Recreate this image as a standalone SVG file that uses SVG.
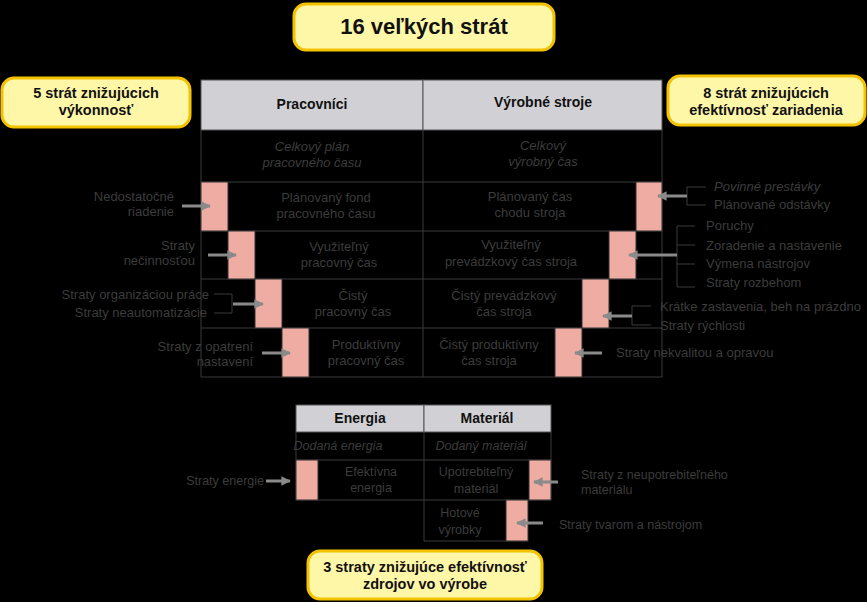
<svg xmlns="http://www.w3.org/2000/svg" width="867" height="602" viewBox="0 0 867 602">
<defs>
<marker id="ah" viewBox="0 0 10 10" refX="9" refY="5" markerWidth="3.2" markerHeight="3.2" orient="auto"><path d="M0,0L10,5L0,10z" fill="#8a8a8a"/></marker>
<style>
text{font-family:"Liberation Sans",Arial,sans-serif;fill:#3c3c3c;font-size:13px}
.s{font-size:12.5px}
.c{text-anchor:middle}.r{text-anchor:end}.i{font-style:italic}
.h{font-weight:bold;fill:#111;font-size:14px}
.y{fill:#fff7a8;stroke:#f3c300;stroke-width:3}
.yt{font-weight:bold;fill:#111;font-size:14.5px;text-anchor:middle}
.hd{fill:#d1d1d5;stroke:#555;stroke-width:1}
.cell{fill:none;stroke:#3a3a3a;stroke-width:1}
.p{fill:#eeaca3;stroke:#333;stroke-width:1}
.a{stroke:#8a8a8a;stroke-width:3;fill:none;marker-end:url(#ah)}
.b{stroke:#3a3a3a;stroke-width:1;fill:none}
</style>
</defs>
<rect width="867" height="602" fill="#000"/>
<g id="title"><rect class="y" x="294" y="4" width="260" height="46" rx="12"/><text class="yt" x="424" y="34" style="font-size:22px">16 veľkých strát</text></g>
<g id="left-label"><rect class="y" x="2" y="78" width="188" height="49" rx="12"/><text class="yt" x="96" y="98">5 strát znižujúcich</text><text class="yt" x="96" y="115">výkonnosť</text></g>
<g id="right-label"><rect class="y" x="668" y="76" width="197" height="49" rx="12"/><text class="yt" x="766" y="98">8 strát znižujúcich</text><text class="yt" x="766" y="115">efektívnosť zariadenia</text></g>
<g id="bottom-label"><rect class="y" x="308" y="551" width="234" height="48" rx="12"/><text class="yt" x="425" y="572">3 straty znižujúce efektívnosť</text><text class="yt" x="425" y="589">zdrojov vo výrobe</text></g>
<g id="main-table">
<rect class="hd" x="201" y="80" width="222" height="50"/><rect class="hd" x="423" y="80" width="239" height="50"/>
<text class="h c" x="312" y="109">Pracovníci</text><text class="h c" x="543" y="107">Výrobné stroje</text>
<path class="cell" d="M201,130V377M662,130V377M423,130V377M201,182H662M201,231H662M201,279H662M201,328H662M201,377H662"/>
<rect class="p" x="201" y="182" width="27" height="49"/><rect class="p" x="228" y="231" width="27" height="48"/><rect class="p" x="255" y="279" width="27" height="49"/><rect class="p" x="282" y="328" width="27" height="49"/>
<rect class="p" x="636" y="182" width="26" height="49"/><rect class="p" x="609" y="231" width="27" height="48"/><rect class="p" x="582" y="279" width="27" height="49"/><rect class="p" x="555" y="328" width="27" height="49"/>
<text class="c i" x="312" y="151">Celkový plán</text><text class="c i" x="312" y="167">pracovného času</text>
<text class="c" x="326" y="202">Plánovaný fond</text><text class="c" x="326" y="218">pracovného času</text>
<text class="c" x="339" y="251">Využiteľný</text><text class="c" x="339" y="267">pracovný čas</text>
<text class="c" x="353" y="300">Čistý</text><text class="c" x="353" y="316">pracovný čas</text>
<text class="c" x="366" y="349">Produktívny</text><text class="c" x="366" y="365">pracovný čas</text>
<text class="c i" x="543" y="150">Celkový</text><text class="c i" x="543" y="166">výrobný čas</text>
<text class="c" x="530" y="201">Plánovaný čas</text><text class="c" x="530" y="217">chodu stroja</text>
<text class="c" x="511" y="249">Využiteľný</text><text class="c" x="511" y="266">prevádzkový čas stroja</text>
<text class="c" x="504" y="300">Čistý prevádzkový</text><text class="c" x="504" y="316">čas stroja</text>
<text class="c" x="489" y="349">Čistý produktívny</text><text class="c" x="489" y="365">čas stroja</text>
</g>
<g id="bottom-table">
<rect class="hd" x="296" y="405" width="128" height="27"/><rect class="hd" x="424" y="405" width="127" height="27"/>
<text class="h c" x="360" y="423">Energia</text><text class="h c" x="487" y="423">Materiál</text>
<path class="cell" d="M296,432V500M551,432V500M424,432V541M296,460H551M296,500H551M424,541H528"/>
<rect class="p" x="296" y="460" width="22" height="40"/><rect class="p" x="529" y="460" width="22" height="40"/><rect class="p" x="506" y="500" width="22" height="41"/>
<text class="c i s" x="338" y="450">Dodaná energia</text><text class="c i s" x="481" y="450">Dodaný materiál</text>
<text class="c s" x="371" y="476">Efektívna</text><text class="c s" x="371" y="492">energia</text>
<text class="c s" x="476" y="476">Upotrebiteľný</text><text class="c s" x="476" y="493">materiál</text>
<text class="c s" x="460" y="517">Hotové</text><text class="c s" x="460" y="534">výrobky</text>
</g>
<g id="loss-labels">
<text class="r" x="174" y="201">Nedostatočné</text><text class="r" x="174" y="216">riadenie</text>
<text class="r" x="195" y="250">Straty</text><text class="r" x="195" y="265">nečinnosťou</text>
<text class="r" x="209" y="299">Straty organizáciou práce</text><text class="r" x="207" y="317">Straty neautomatizácie</text>
<text class="r" x="253" y="351">Straty z opatrení</text><text class="r" x="253" y="366">nastavení</text>
<text class="i" x="714" y="191">Povinné prestávky</text><text x="714" y="209">Plánované odstávky</text>
<text x="706" y="230">Poruchy</text><text x="706" y="250">Zoradenie a nastavenie</text><text x="706" y="268">Výmena nástrojov</text><text x="706" y="287">Straty rozbehom</text>
<text x="660" y="311">Krátke zastavenia, beh na prázdno</text><text x="660" y="330">Straty rýchlosti</text>
<text x="616" y="357">Straty nekvalitou a opravou</text>
<text class="r s" x="264" y="485">Straty energie</text>
<text class="s" x="581" y="479">Straty z neupotrebiteľného</text><text class="s" x="581" y="494">materiálu</text>
<text class="s" x="559" y="529">Straty tvarom a nástrojom</text>
</g>
<g id="connectors">
<path class="b" d="M214,294H232V313H214M706,187H687V205H706M695,226H677V287H695M677,245H695M677,264H695M651,306H632V325H651"/>
<path class="a" d="M182,206H210"/><path class="a" d="M208,255H236"/><path class="a" d="M233,304H263"/><path class="a" d="M262,353H290"/>
<path class="a" d="M687,196H658"/><path class="a" d="M677,255H629"/><path class="a" d="M632,316H603"/><path class="a" d="M602,353H575"/>
<path class="a" d="M266,481H290"/><path class="a" d="M558,482H534"/><path class="a" d="M543,523H517"/>
</g>
</svg>
